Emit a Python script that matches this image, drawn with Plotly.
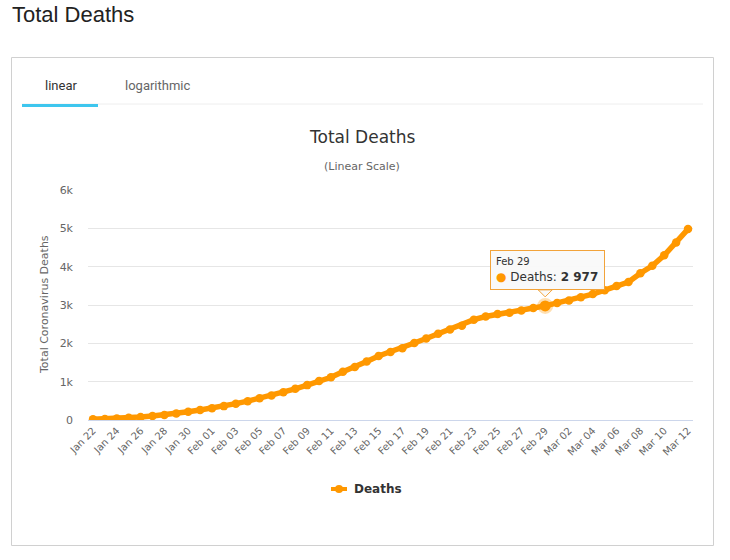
import plotly.graph_objects as go

dates = ["Jan 22","Jan 23","Jan 24","Jan 25","Jan 26","Jan 27","Jan 28","Jan 29","Jan 30","Jan 31",
         "Feb 01","Feb 02","Feb 03","Feb 04","Feb 05","Feb 06","Feb 07","Feb 08","Feb 09","Feb 10",
         "Feb 11","Feb 12","Feb 13","Feb 14","Feb 15","Feb 16","Feb 17","Feb 18","Feb 19","Feb 20",
         "Feb 21","Feb 22","Feb 23","Feb 24","Feb 25","Feb 26","Feb 27","Feb 28","Feb 29",
         "Mar 01","Mar 02","Mar 03","Mar 04","Mar 05","Mar 06","Mar 07","Mar 08","Mar 09","Mar 10",
         "Mar 11","Mar 12"]
deaths = [17, 25, 41, 56, 80, 106, 132, 170, 213, 259,
          304, 362, 426, 492, 565, 638, 724, 813, 910, 1018,
          1115, 1261, 1383, 1526, 1669, 1775, 1873, 2009, 2126, 2247,
          2360, 2460, 2618, 2699, 2763, 2800, 2858, 2923, 2977,
          3050, 3117, 3202, 3285, 3387, 3494, 3599, 3827, 4025, 4296,
          4628, 4981]
tick_labels = dates[::2]
y_ticks = [0, 1000, 2000, 3000, 4000, 5000, 6000]
y_tick_text = ["0", "1k", "2k", "3k", "4k", "5k", "6k"]
series_name = "Deaths"
highlight = "Feb 29"

ORANGE = "#ff9800"
W, H = 730, 560
PL, PR, PT, PB = 88, 693, 190, 420  # plot area in page pixels
L, T = PL, PT
R, B = W - PR, H - PB
FONT = "DejaVu Sans"

hi_idx = dates.index(highlight)
hi_val = deaths[hi_idx]

fig = go.Figure()
fig.add_trace(go.Scatter(
    x=dates, y=deaths, mode="lines+markers", name=series_name,
    line=dict(color=ORANGE, width=5.5),
    marker=dict(color=ORANGE, size=8.5),
    hoverinfo="skip", showlegend=False,
))
fig.add_trace(go.Scatter(
    x=[dates[hi_idx]], y=[hi_val], mode="markers",
    marker=dict(color=ORANGE, size=11, line=dict(color="rgba(255,152,0,0.3)", width=5)),
    hoverinfo="skip", showlegend=False,
))

def px(x):
    return (x - PL) / (PR - PL)

def py(y):
    return (PB - y) / (PB - PT)

shapes = [
    dict(type="rect", xref="paper", yref="paper", x0=px(11.5), x1=px(713.5), y0=py(57.5), y1=py(545.5),
         line=dict(color="#d0d0d0", width=1), layer="below"),
    dict(type="line", xref="paper", yref="paper", x0=px(22), x1=px(703), y0=py(104), y1=py(104),
         line=dict(color="#eeeeee", width=1)),
    dict(type="line", xref="paper", yref="paper", x0=px(22), x1=px(98), y0=py(105.5), y1=py(105.5),
         line=dict(color="#3ec6ee", width=3)),
    dict(type="line", xref="paper", yref="paper", x0=px(331), x1=px(347), y0=py(489), y1=py(489),
         line=dict(color=ORANGE, width=4)),
    dict(type="circle", xref="paper", yref="paper", x0=px(335), x1=px(343), y0=py(485), y1=py(493),
         fillcolor=ORANGE, line=dict(color=ORANGE, width=0)),
    dict(type="path", xref="x", yref="y", xsizemode="pixel", ysizemode="pixel",
         xanchor=dates[hi_idx], yanchor=hi_val,
         path="M -7 16 L 0 9 L 7 16 Z",
         fillcolor="#f9f9f9", line=dict(color="#f2a33a", width=1)),
]

annotations = [
    dict(text="Total Deaths", xref="paper", yref="paper", x=px(10), y=py(14), xanchor="left", yanchor="middle",
         showarrow=False, font=dict(family="Liberation Sans", size=22, color="#222222")),
    dict(text="linear", xref="paper", yref="paper", x=px(61), y=py(85), xanchor="center", yanchor="middle",
         showarrow=False, font=dict(family="Roboto", size=13, color="#333333")),
    dict(text="logarithmic", xref="paper", yref="paper", x=px(157), y=py(85), xanchor="center", yanchor="middle",
         showarrow=False, font=dict(family="Roboto", size=13, color="#666666")),
    dict(text="Total Deaths", xref="paper", yref="paper", x=px(362), y=py(137), xanchor="center", yanchor="middle",
         showarrow=False, font=dict(family=FONT, size=17, color="#333333")),
    dict(text="(Linear Scale)", xref="paper", yref="paper", x=px(362), y=py(167), xanchor="center", yanchor="middle",
         showarrow=False, font=dict(family=FONT, size=11, color="#666666")),
    dict(text="Total Coronavirus Deaths", xref="paper", yref="paper", x=px(44), y=py(305), xanchor="center",
         yanchor="middle", textangle=-90, showarrow=False, font=dict(family=FONT, size=11, color="#666666")),
    dict(text="<b>" + series_name + "</b>", xref="paper", yref="paper", x=px(352), y=py(489), xanchor="left",
         yanchor="middle", showarrow=False, font=dict(family=FONT, size=12, color="#333333")),
    dict(text="<span style='font-size:10px'>" + dates[hi_idx] + "</span><br>"
              "<span style='color:" + ORANGE + "'>●</span> " + series_name + ": <b>"
              + f"{hi_val:,}".replace(",", " ") + "</b>",
         x=dates[hi_idx], y=hi_val, xref="x", yref="y", xanchor="center", yanchor="bottom",
         xshift=2, yshift=16, showarrow=False, align="left",
         bgcolor="rgba(249,249,249,0.95)", bordercolor="#f2a33a", borderwidth=1, borderpad=5,
         width=103, font=dict(family=FONT, size=12, color="#333333")),
]

fig.update_layout(
    width=W, height=H,
    margin=dict(l=L, r=R, t=T, b=B),
    paper_bgcolor="white", plot_bgcolor="white",
    showlegend=False,
    hovermode=False,
    shapes=shapes,
    annotations=annotations,
    font=dict(family=FONT, size=11, color="#666666"),
    xaxis=dict(
        type="category", categoryorder="array", categoryarray=dates,
        range=[-0.42, len(dates) - 1 + 0.42],
        tickmode="array", tickvals=tick_labels, ticktext=tick_labels,
        tickangle=-45, tickfont=dict(family=FONT, size=10, color="#666666"),
        showgrid=False, showline=True, linecolor="#ccd6eb", linewidth=1,
        ticks="", zeroline=False, fixedrange=True,
    ),
    yaxis=dict(
        range=[0, 6000], tickmode="array", tickvals=y_ticks, ticktext=y_tick_text,
        tickfont=dict(family=FONT, size=11, color="#666666"),
        showgrid=True, gridcolor="#e6e6e6", gridwidth=1,
        zeroline=False, showline=False, ticks="", ticklabelstandoff=14, fixedrange=True,
    ),
)

fig.write_html("out.html", config={"displayModeBar": False},
               post_script="document.body.style.margin='0';")
